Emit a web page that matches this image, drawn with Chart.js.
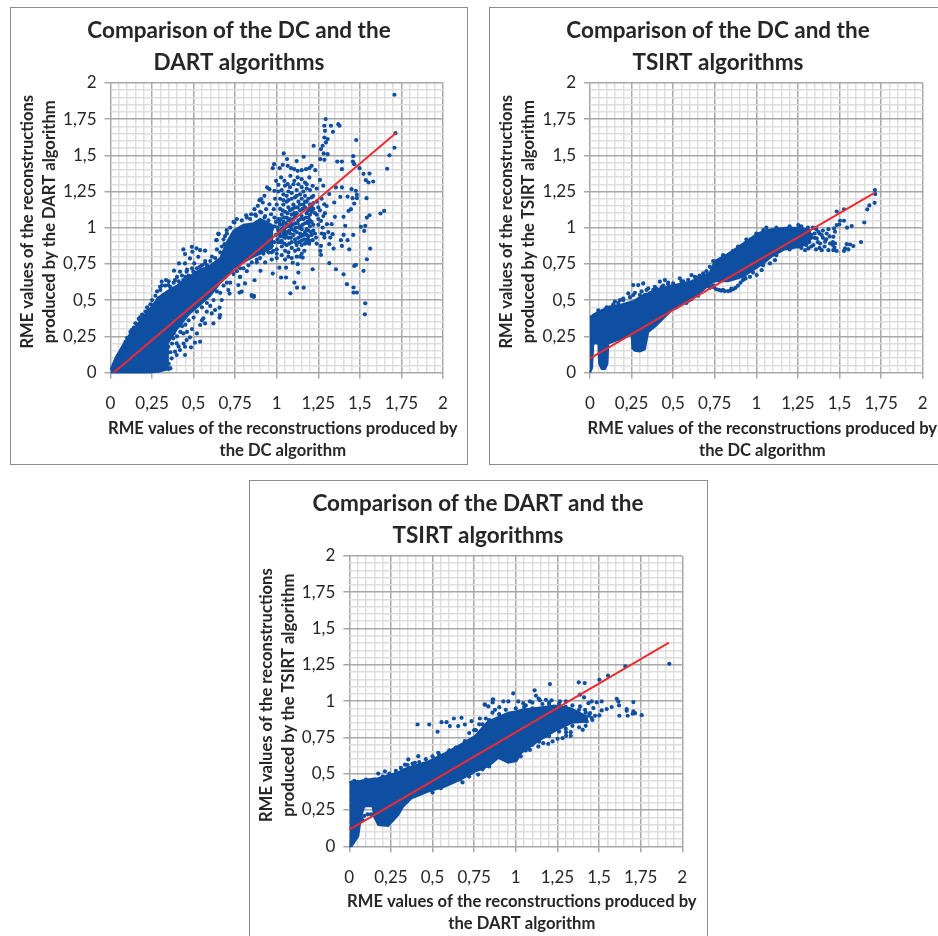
<!DOCTYPE html>
<html>
<head>
<meta charset="utf-8">
<script src="https://cdn.jsdelivr.net/npm/chart.js@4"></script>
<style>
html, body { margin: 0; padding: 0; background: #fff; width: 938px; height: 936px; overflow: hidden; }
canvas { position: absolute; box-sizing: border-box; }
.frame { position: absolute; border: 1px solid #8c8c8c; box-sizing: border-box; }
</style>
</head>
<body>
<div class="frame" style="left:10px;top:7px;width:458px;height:458px"></div>
<div class="frame" style="left:489px;top:7px;width:458px;height:458px"></div>
<div class="frame" style="left:249px;top:480px;width:459px;height:458px"></div>
<canvas id="chartA" width="458" height="458" style="left:10px;top:7px"></canvas>
<canvas id="chartB" width="458" height="458" style="left:489px;top:7px"></canvas>
<canvas id="chartC" width="458" height="458" style="left:249px;top:480px"></canvas>
<script>
const tickLabels = ['0', '0,25', '0,5', '0,75', '1', '1,25', '1,5', '1,75', '2'];

// dense part of each cloud
const dartCoreX = [0, .03, .08, .13, .18, .23, .29, .34, .345, .4, .47, .54, .6, .66, .7, .74, .8, .86, .9, .97, .98];
const dartCoreTop = [.02, .1, .2, .29, .36, .43, .52, .56, .56, .6, .66, .71, .74, .79, .9, .98, 1.02, 1.03, 1.06, 1.02, .98];
const dartCoreBottom = [0, 0, 0, 0, 0, 0, .005, .02, .2, .3, .4, .47, .53, .62, .66, .72, .76, .8, .82, .86, .88];

const tsirtCoreX = [0, .012, .02, .05, .055, .07, .09, .105, .11, .19, .25, .255, .27, .3, .33, .35, .39, .49, .61, .72, .75, .83, .92, .97, 1.01, 1.05, 1.09, 1.17, 1.27, 1.33];
const tsirtCoreTop = [.385, .39, .4, .42, .42, .43, .44, .45, .455, .47, .49, .49, .5, .52, .54, .545, .57, .6, .63, .69, .77, .82, .89, .93, .96, .98, .99, 1, 1, .98];
const tsirtCoreBottom = [0, .03, .2, .2, .06, .025, .025, .06, .2, .235, .26, .165, .15, .145, .16, .28, .316, .43, .5, .61, .63, .63, .66, .7, .73, .76, .8, .85, .87, .9];

const dartTsirtCoreX = [0, .014, .054, .07, .09, .14, .15, .174, .234, .294, .324, .374, .474, .575, .665, .755, .834, .894, .954, 1.004, 1.034, 1.134, 1.234, 1.334, 1.434];
const dartTsirtCoreTop = [.44, .446, .45, .452, .456, .465, .467, .469, .49, .51, .53, .55, .584, .641, .699, .76, .86, .89, .92, .93, .94, .955, .97, .95, .89];
const dartTsirtCoreBottom = [0, 0, .07, .2, .275, .275, .2, .147, .14, .216, .274, .331, .377, .411, .457, .515, .55, .609, .575, .586, .644, .724, .793, .851, .86];

// points outside the dense part
const dartPoints = [
  [1.708, 1.918], [1.714, 1.653], [1.708, 1.552], [1.678, 1.5], [1.664, 1.407], [1.646, 1.116], [1.624, 1.098],
  [1.294, 1.75], [1.326, 1.704], [1.286, 1.704], [1.37, 1.715], [1.378, 1.704], [1.29, 1.669], [1.338, 1.662],
  [1.478, 1.605], [1.286, 1.623], [1.306, 1.612], [1.296, 1.589], [1.276, 1.566], [1.266, 1.543], [1.222, 1.566],
  [1.306, 1.508], [1.282, 1.513], [1.262, 1.474], [1.286, 1.469], [1.364, 1.457], [1.392, 1.457], [1.46, 1.494],
  [1.458, 1.457], [1.466, 1.439], [1.498, 1.411], [1.522, 1.372], [1.558, 1.374], [1.536, 1.328], [1.58, 1.319],
  [1.552, 1.312], [1.392, 1.404], [1.042, 1.513], [1.162, 1.49], [1.062, 1.474], [1.12, 1.46],
  [.976, 1.411], [.984, 1.439], [1.018, 1.411], [1.036, 1.434], [1.066, 1.427], [1.086, 1.411], [1.106, 1.404],
  [1.126, 1.393], [1.15, 1.397], [1.176, 1.404], [1.196, 1.411], [1.21, 1.427], [1.232, 1.397], [.996, 1.324],
  [1.01, 1.296], [1.026, 1.347], [1.046, 1.324], [1.066, 1.301], [1.082, 1.358], [1.106, 1.324], [1.126, 1.347],
  [1.15, 1.335], [1.17, 1.312], [1.196, 1.347], [1.216, 1.289], [.942, 1.278], [.956, 1.266], [.986, 1.255],
  [.926, 1.22], [.906, 1.197], [.896, 1.19], [.866, 1.128], [.846, 1.093], [.816, 1.086], [.886, 1.151],
  [.916, 1.174], [.956, 1.162], [.982, 1.128], [.986, 1.07], [.966, 1.093], [.936, 1.128], [.906, 1.105],
  [.876, 1.082], [.926, 1.07], [.746, 1.036], [.65, .955], [.636, .914], [.686, .886],
  [.438, .85], [.489, .868], [.518, .857], [.448, .818], [.492, .834], [.539, .845], [.569, .841], [.478, .788],
  [.528, .799], [.412, .753], [.448, .753], [.504, .753], [.382, .703], [.418, .696], [.458, .696], [.498, .696],
  [.538, .73], [.569, .753], [.334, .638], [.308, .627], [.298, .592], [.348, .604], [.388, .638], [.438, .638],
  [.478, .65], [.228, .431], [.178, .381], [.127, .293], [.067, .155], [.043, .114], [.208, .381], [.258, .466],
  [.288, .512], [.318, .535], [.649, .96], [.639, .914], [.689, .942], [.699, .983],
  [.378, .236], [.398, .201], [.438, .27], [.458, .224], [.484, .174], [.539, .213], [.508, .206], [.448, .178],
  [.418, .155], [.388, .144], [.348, .178], [.338, .128], [.368, .098], [.398, .121], [.448, .121], [.478, .243],
  [.539, .328], [.569, .339], [.619, .339], [.659, .397], [.629, .431], [.579, .42], [.669, .5], [.709, .569],
  [.769, .604], [.789, .558], [.849, .535], [.863, .53], [.779, .661], [.809, .615], [.559, .374], [.609, .408],
  [.866, .637], [.902, .702], [.976, .683], [1.026, .656], [1.056, .656], [1.082, .547], [1.106, .621], [1.13, .69],
  [1.122, .586], [1.162, .586], [1.216, .713], [.85, .529], [.862, .522], [.776, .552], [.716, .545], [.656, .448],
  [.656, .379], [1.316, .755], [1.356, .713], [1.402, .678], [1.422, .61], [1.462, .587], [1.462, .552], [1.482, .552],
  [1.532, .478], [1.53, .402], [1.522, .702], [1.542, .782], [1.466, .736], [1.476, .743], [1.562, .856], [1.526, .978],
  [1.506, 1.006], [1.532, 1.013], [1.542, 1.07], [1.558, 1.086], [1.386, .914], [1.392, .874], [1.436, .851],
  [1.426, .914], [1.46, .95], [1.412, 1.013], [1.402, .95], [1.342, .856], [1.316, .886], [1.266, .874], [1.262, .84],
  [1.266, .812], [1.336, .955], [1.322, .932], [1.286, .955], [1.286, .932], [1.302, 1.024], [1.33, 1.024],
  [1.35, 1.075], [1.402, 1.075], [1.432, 1.116], [1.446, 1.128], [1.466, 1.167], [1.426, 1.215], [1.456, 1.204],
  [1.482, 1.227], [1.482, 1.204], [1.45, 1.266], [1.476, 1.255], [1.54, 1.204], [1.392, 1.278], [1.356, 1.278],
  [1.382, 1.213], [1.346, 1.174], [1.286, 1.162], [1.316, 1.232], [1.266, 1.047], [1.276, 1.001], [1.236, .932],
  [1.216, .914], [1.186, .92], [1.166, .84], [1.156, .794], [1.126, .748], [1.096, .758], [1.056, .724], [1.016, .724],
  [1.2, 1.26], [1.22, 1.22], [1.24, 1.18], [1.21, 1.15], [1.23, 1.1], [1.2, 1.05], [1.22, 1.02], [1.25, 1.06],
  [1.19, .98], [1.21, .95], [1.25, 1.14], [1.27, 1.2], [1.24, 1.27], [1.26, 1.33], [1.28, 1.29], [1.18, 1.3],
  [1.14, .8], [1.09, .79], [1.05, .78], [1, .79], [.97, .78], [.93, .76], [.88, .76], [.82, .7], [.78, .66],
  [.06, .13], [.09, .21], [.1, .24], [.12, .28], [.14, .31], [.15, .34], [.17, .37], [.19, .4], [.21, .42], [.22, .45],
  [.24, .47], [.25, .5], [.27, .53], [.28, .56], [.3, .57], [.31, .6], [.33, .6], [.35, .63], [.36, .59], [.38, .62],
  [.4, .66], [.41, .63], [.43, .67], [.45, .66], [.46, .71], [.47, .67], [.49, .72], [.51, .69], [.52, .72], [.55, .74],
  [.57, .77], [.58, .74], [.6, .77], [.61, .8], [.63, .79], [.64, .85], [.66, .83], [.67, .87], [.68, .92], [.7, .96],
  [.72, 1], [.74, 1.04], [.76, 1.06], [.79, 1.05], [.82, 1.07], [.84, 1.06], [.87, 1.09], [.9, 1.11], [.93, 1.08], [.95, 1.05],
  [.35, .06], [.36, .14], [.37, .2], [.38, .27], [.4, .25], [.41, .18], [.42, .28], [.43, .32], [.44, .2], [.45, .33],
  [.46, .28], [.47, .36], [.49, .3], [.5, .38], [.52, .27], [.52, .42], [.55, .36], [.55, .45], [.58, .48], [.6, .46],
  [.62, .5], [.64, .56], [.66, .55], [.68, .6], [.7, .62], [.72, .62], [.74, .68], [.76, .7], [.78, .72], [.8, .72],
  [.83, .74], [.85, .76], [.88, .78], [.9, .79], [.92, .82], [.95, .83], [.98, .84], [.35, .025], [.33, .03], [.36, .03],
  [.99, 1.2], [1, 1.16], [1.01, 1.25], [1.02, 1.2], [1.03, 1.26], [1.04, 1.23], [1.05, 1.29], [1.06, 1.22], [1.07, 1.25],
  [1.08, 1.28], [1.09, 1.24], [1.1, 1.3], [1.11, 1.21], [1.12, 1.26], [1.13, 1.3], [1.14, 1.23], [1.15, 1.28], [1.16, 1.25],
  [1.17, 1.22], [1.18, 1.27], [1.19, 1.2], [1.2, 1.16], [1.19, 1.12], [1.2, 1.09], [1.21, 1.04], [1.19, 1.03], [1.22, .98],
  [1.18, .95], [1.2, .91], [1.17, .89], [1.15, .88], [1.13, .85], [1.11, .84], [1.09, .86], [1.07, .83], [1.05, .84],
  [1.03, .87], [1.15, .82], [1.12, .8], [1.07, .8], [1.03, .81], [1, .85], [.97, .83], [1, .82], [1.22, 1.13], [1.24, 1.09],
  [1.25, 1.02], [1.23, .96], [1.26, 1.12], [1.28, 1.08], [1.3, 1.15], [1.27, .96], [1.24, .89], [1.29, 1.1], [1.31, .97],
  [1.01, .9], [1.02, .94], [1.01, .98], [1.02, 1.02], [1.01, 1.06], [1.03, 1.09], [1.02, 1.13], [1.04, 1.16], [1.03, .91],
  [1.04, .96], [1.05, 1], [1.04, 1.04], [1.06, 1.07], [1.05, 1.11], [1.07, 1.14], [1.06, 1.18], [1.06, .88], [1.07, .93],
  [1.06, .97], [1.08, 1.01], [1.07, 1.05], [1.09, 1.09], [1.08, 1.12], [1.1, 1.16], [1.09, 1.2], [1.09, .9], [1.1, .95],
  [1.09, .99], [1.11, 1.03], [1.1, 1.06], [1.12, 1.1], [1.11, 1.14], [1.13, 1.18], [1.12, .88], [1.13, .93], [1.12, .97],
  [1.14, 1.01], [1.13, 1.05], [1.15, 1.08], [1.14, 1.12], [1.16, 1.16], [1.15, 1.2], [1.15, .91], [1.16, .95], [1.15, .99],
  [1.17, 1.03], [1.16, 1.06], [1.18, 1.1], [1.17, 1.14], [1.18, 1.18], [1.18, .9], [1.19, .94], [1.18, .99], [1.2, 1.01],
  [1.19, 1.07], [1.21, 1.11], [1.2, 1.13], [1.22, 1.17], [1.21, 1.21], [1.03, .99], [1.08, .96], [1.11, .92], [1.14, .96],
  [1.17, .97], [1.05, .93], [1.08, 1.06], [1.11, 1.08], [1.14, 1.16], [1.04, 1.19], [1.07, 1.19], [1.12, 1.22], [1.17, 1.18],
  [1.005, .92], [1.005, 1], [1.015, .96], [1.015, 1.04], [1.025, .9], [1.025, .98], [1.025, 1.06], [1.035, .94], [1.035, 1.02],
  [1.035, 1.12], [1.045, .89], [1.045, .98], [1.045, 1.07], [1.055, .95], [1.055, 1.03], [1.065, 1.01], [1.065, 1.1], [1.075, .89],
  [1.075, .98], [1.085, .93], [1.085, 1.03], [1.095, 1.02], [1.095, 1.13], [1.105, .98], [1.105, 1.1], [1.115, .9], [1.115, 1],
  [1.125, 1.03], [1.125, 1.14], [1.135, .9], [1.135, 1], [1.145, 1.06], [1.145, .94], [1.155, 1.02], [1.155, 1.13], [1.165, .92],
  [1.175, 1.07], [1.185, 1.04], [1.195, .89], [1.205, .97], [.985, .9], [.995, .95], [.985, 1.01], [.995, 1.04]
];

const tsirtPoints = [
  [1.713, 1.26], [1.715, 1.232], [1.711, 1.172], [1.679, 1.154], [1.667, 1.126], [1.649, 1.036], [1.629, .901],
  [1.583, .873], [1.563, .884], [1.543, .887], [1.533, .857], [1.527, .839], [1.553, .85], [1.573, 1.011], [1.545, 1],
  [1.527, 1.048], [1.503, 1.048], [1.483, 1.112], [1.527, 1.126], [1.499, 1.022], [1.483, 1.018], [1.467, .995],
  [1.473, .972], [1.463, .937], [1.473, .891], [1.483, .839], [1.463, .845], [1.433, .845], [1.393, .845], [1.359, .85],
  [1.443, .891], [1.413, .903], [1.383, .891], [1.423, .96], [1.433, .99], [1.393, .949], [1.363, .926], [1.373, .972],
  [1.343, .88], [1.313, .857], [1.293, .845], [1.252, 1.018], [1.042, .984], [.992, .938], [.966, .919], [.942, .903],
  [.922, .857], [.882, .822], [.8, .8], [.838, .818], [1.112, .776], [1.082, .753], [1.032, .707], [1.002, .673],
  [.962, .661], [.932, .65], [1.35, .96], [1.33, .93], [1.31, .9], [1.37, .9], [1.4, .93], [1.34, 1],
  [.23, .546], [.26, .535], [.26, .604], [.29, .604], [.32, .615], [.35, .581], [.36, .546], [.39, .592], [.42, .627],
  [.45, .638], [.47, .62], [.3, .535], [.33, .535], [.54, .65], [.61, .673], [.68, .684], [.755, .765], [.76, .735],
  [.73, .592], [.76, .575], [.79, .566], [.83, .562], [.86, .575], [.89, .6], [.92, .638], [.7, .6], [.74, .6],
  [.715, .595], [.745, .588], [.775, .57], [.81, .562], [.845, .566], [.875, .585], [.905, .62], [.935, .65], [.72, .585], [.8, .57], [.85, .58],
  [.15, .49], [.18, .5], [.2, .51], [.38, .57], [.44, .6], [.5, .615], [.56, .63], [.64, .655],
  [1.28, .98], [1.3, .96], [1.29, .91], [1.31, .94], [1.33, .95], [1.35, .93], [1.36, .99], [1.38, .96], [1.4, .98],
  [1.42, .92], [1.44, .94], [1.46, .9], [1.47, .86], [1.46, .88], [1.41, .87], [1.38, .86], [1.33, .87], [1.3, .88],
  [1.27, .86], [1.25, .87], [.05, .43], [.1, .45], [.14, .47], [.17, .48], [.2, .5], [.24, .52], [.27, .55], [.31, .56],
  [.34, .57], [.4, .58], [.43, .59], [.47, .61], [.5, .6], [.55, .63], [.59, .64], [.63, .66], [.66, .67], [.7, .7],
  [.72, .73], [.74, .77], [.78, .78], [.8, .81], [.86, .84], [.89, .87], [.94, .92], [1, .96], [1.06, 1], [1.12, 1],
  [1.2, 1.01], [1.27, 1.01], [1.31, 1], [.42, .36], [.46, .41], [.52, .45], [.58, .48], [.65, .53], [.98, .69],
  [1.04, .74], [1.12, .81], [1.2, .85]
];

const dartTsirtPoints = [
  [1.922, 1.257], [1.658, 1.239], [1.554, 1.175], [1.502, 1.147], [1.378, 1.129], [1.414, 1.124], [1.205, 1.117],
  [1.113, 1.074], [.985, 1.053], [1.121, 1.037], [1.137, 1.018], [.861, 1.009], [.861, .991], [.815, .975], [.835, .963],
  [.925, .998], [.955, .998], [.875, .94], [.901, .958], [1.015, .998], [1.045, .986], [1.085, .998], [1.145, 1.005],
  [1.181, 1.009], [1.215, 1.005], [1.265, .998], [1.301, .998], [1.386, 1.044], [1.41, 1.025], [1.456, .998], [1.486, .991],
  [1.516, .998], [1.606, 1.016], [1.616, .998], [1.62, .97], [1.706, .993], [1.666, .945], [1.666, .933], [1.706, .929],
  [1.716, .917], [1.702, .913], [1.756, .903], [1.622, .899], [1.672, .899], [1.576, .959], [1.546, .945], [1.516, .936],
  [1.502, .901], [1.476, .899], [1.466, .952], [1.436, .986], [1.446, .917], [1.416, .94], [1.386, .963], [1.456, .883],
  [1.426, .86], [1.402, .802], [1.33, .786], [1.33, .761], [1.302, .786], [1.302, .761], [1.281, .745], [1.251, .74],
  [1.221, .722], [1.195, .706], [1.181, .761], [1.165, .71], [1.135, .687], [1.085, .664],
  [.41, .839], [.48, .839], [.53, .789], [.554, .855], [.584, .855], [.604, .828], [.628, .88], [.674, .885], [.654, .828],
  [.694, .839], [.734, .862], [.784, .88], [.814, .977], [.864, 1.012], [.534, .644], [.514, .598], [.414, .621],
  [.354, .598], [.334, .563], [.214, .517], [.174, .501], [.394, .575], [.604, .632], [.654, .678], [.694, .724],
  [.664, .46], [.774, .494], [.734, .506], [.07, .2], [.09, .21], [.11, .22], [.13, .22], [.15, .22], [.08, .18],
  [.76, .8], [.8, .84], [.84, .87], [.88, .85], [.92, .89], [.98, .91], [1.05, .96], [1.1, .95], [1.2, .98],
  [.03, .45], [.1, .46], [.2, .48], [.24, .5], [.28, .52], [.31, .54], [.35, .56], [.38, .57], [.42, .58], [.46, .6],
  [.5, .62], [.54, .63], [.6, .66], [.64, .68], [.7, .72], [.72, .78], [.75, .8], [.78, .84], [.82, .88], [.86, .92],
  [.9, .91], [.94, .94], [1, .95], [1.06, .97], [1.1, .99], [1.16, .98], [1.2, .99], [1.26, .98], [1.3, .96], [1.34, .97],
  [1.38, .94], [1.42, .92], [1.44, .9], [1.46, .87], [1.42, .83], [1.38, .82], [1.34, .83], [1.3, .81], [1.26, .79],
  [1.2, .76], [1.14, .72], [1.1, .7], [1.06, .66], [1.03, .62], [.55, .4], [.68, .44], [.72, .48], [.8, .53], [.84, .55], [.5, .37]
];

const dartLineX = [.02, 1.719];
const dartLineY = [0, 1.655];
const tsirtLineX = [0, 1.71];
const tsirtLineY = [.097, 1.24];
const dartTsirtLineX = [0, 1.92];
const dartTsirtLineY = [.115, 1.402];

const blue = '#0F4FA1';

// excel centres these titles off the plot: main title over the frame,
// x title wider than the plot and a bit right, y title a bit up
const titlePlacing = {
  id: 'titlePlacing',
  afterLayout: chart => {
    chart.titleBlock.right = chart.width;
    chart.scales.x.left -= 3;
    chart.scales.x.right += 15;
    chart.scales.y.top -= 6;
    chart.scales.y.bottom -= 6;
  }
};

function drawChart(id, title, xTitle, yTitle, coreX, coreTop, coreBottom, points, lineX, lineY, plot) {
  return new Chart(document.getElementById(id), {
    type: 'scatter',
    plugins: [titlePlacing],
    data: {
      datasets: [
        { data: lineX.map((x, i) => ({ x: x, y: lineY[i] })), showLine: true, borderColor: '#EE2B33', borderWidth: 2, pointRadius: 0, order: 0, clip: false },
        { data: points.map(p => ({ x: p[0], y: p[1] })), backgroundColor: blue, borderWidth: 0, pointRadius: 2.1, order: 1, clip: false },
        { data: coreX.map((x, i) => ({ x: x, y: coreTop[i] })), showLine: true, fill: '+1', backgroundColor: blue, borderColor: blue, borderWidth: 2, pointRadius: 0, order: 2, clip: false },
        { data: coreX.map((x, i) => ({ x: x, y: coreBottom[i] })), showLine: true, borderColor: blue, borderWidth: 2, pointRadius: 0, order: 3, clip: false }
      ]
    },
    options: {
      responsive: false,
      animation: false,
      devicePixelRatio: 1,
      layout: { padding: { top: 0, left: 0, bottom: 0, right: 458 - plot.right } },
      plugins: {
        legend: { display: false },
        tooltip: { enabled: false },
        title: {
          display: true,
          text: title,
          color: '#262626',
          font: { family: 'Lato', size: 22.5, weight: 'bold', lineHeight: 1.42 },
          padding: { top: 8, bottom: 4 }
        }
      },
      scales: {
        x: {
          type: 'linear', min: 0, max: 2,
          afterFit: s => { s.height = plot.below; },
          title: { display: true, text: xTitle, color: '#262626', font: { family: 'Lato', size: 16.6, weight: 'bold', lineHeight: 1.37 }, padding: { top: 3, bottom: 2.5 } },
          ticks: { stepSize: .05, autoSkip: false, maxRotation: 0, padding: 15, color: '#262626', font: { family: 'Lato', size: 17 }, callback: (v, i) => i % 5 == 0 ? tickLabels[i / 5] : '' },
          grid: { color: c => c.index % 5 == 0 ? '#A8A8A8' : '#DEDEDE', lineWidth: 1.5, tickLength: 6, tickColor: c => c.index % 5 == 0 ? '#A8A8A8' : 'rgba(0,0,0,0)' },
          border: { display: false }
        },
        y: {
          type: 'linear', min: 0, max: 2,
          afterFit: s => { s.width = plot.left; },
          title: { display: true, text: yTitle, color: '#262626', font: { family: 'Lato', size: 16.6, weight: 'bold', lineHeight: 1.37 }, padding: { top: 6, bottom: 0 } },
          ticks: { stepSize: .05, autoSkip: false, padding: 8, color: '#262626', font: { family: 'Lato', size: 17 }, callback: (v, i) => i % 5 == 0 ? tickLabels[i / 5] : '' },
          grid: { color: c => c.index % 5 == 0 ? '#A8A8A8' : '#DEDEDE', lineWidth: 1.5, tickLength: 6, tickColor: c => c.index % 5 == 0 ? '#A8A8A8' : 'rgba(0,0,0,0)' },
          border: { display: false }
        }
      }
    }
  });
}

drawChart('chartA', ['Comparison of the DC and the', 'DART algorithms'],
  ['RME values of the reconstructions produced by', 'the DC algorithm'],
  ['RME values of the reconstructions', 'produced by the DART algorithm'],
  dartCoreX, dartCoreTop, dartCoreBottom, dartPoints, dartLineX, dartLineY, { left: 100.5, right: 433, below: 92.5 });

drawChart('chartB', ['Comparison of the DC and the', 'TSIRT algorithms'],
  ['RME values of the reconstructions produced by', 'the DC algorithm'],
  ['RME values of the reconstructions', 'produced by the TSIRT algorithm'],
  tsirtCoreX, tsirtCoreTop, tsirtCoreBottom, tsirtPoints, tsirtLineX, tsirtLineY, { left: 101, right: 433.7, below: 92.5 });

drawChart('chartC', ['Comparison of the DART and the', 'TSIRT algorithms'],
  ['RME values of the reconstructions produced by', 'the DART algorithm'],
  ['RME values of the reconstructions', 'produced by the TSIRT algorithm'],
  dartTsirtCoreX, dartTsirtCoreTop, dartTsirtCoreBottom, dartTsirtPoints, dartTsirtLineX, dartTsirtLineY, { left: 100.3, right: 433.3, below: 91.7 });
</script>
</body>
</html>
